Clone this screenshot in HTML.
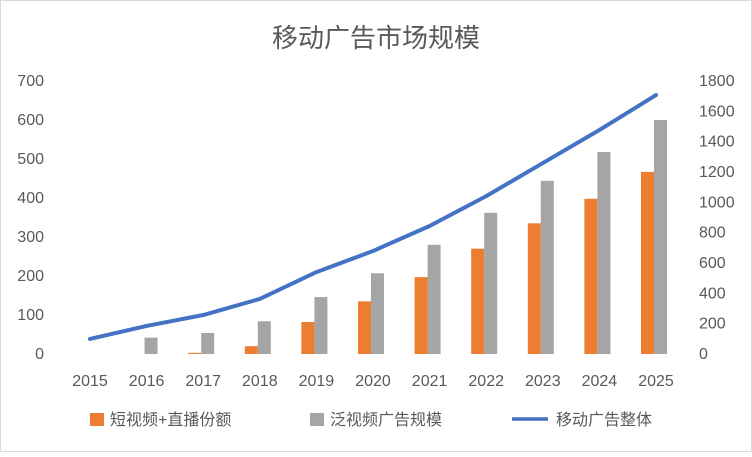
<!DOCTYPE html>
<html><head><meta charset="utf-8"><style>
body{margin:0;background:#fff}
svg text{font-family:"Liberation Sans","Noto Sans CJK SC",sans-serif;fill:#595959}
</style></head><body>
<svg id="c" width="752" height="452" xmlns="http://www.w3.org/2000/svg">
<rect x="0.5" y="0.5" width="751" height="451" fill="#fff" stroke="#d9d9d9"/>
<text x="376" y="47" font-size="26" text-anchor="middle">移动广告市场规模</text>
<g id="axes"></g><g id="bars"></g><g id="line"></g>
<g>
<rect x="90" y="413" width="14" height="13" fill="#ed7d31"/>
<text x="110" y="425" font-size="16">短视频+直播份额</text>
<rect x="310" y="413" width="14" height="13" fill="#a5a5a5"/>
<text x="330" y="425" font-size="16">泛视频广告规模</text>
<line x1="512" y1="419" x2="548" y2="419" stroke="#4472c4" stroke-width="3.5"/>
<text x="556" y="425" font-size="16">移动广告整体</text>
</g>
</svg>
<script>
const years=["2015","2016","2017","2018","2019","2020","2021","2022","2023","2024","2025"];
const shortVideo=[0,0,3,20,82,135,197,270,335,398,467];
const panVideo=[0,42,54,84,146,207,280,362,444,518,600];
const mobileAd=[99,185,257,363,540,679,844,1041,1259,1477,1707];
const leftTicks=[0,100,200,300,400,500,600,700];
const rightTicks=[0,200,400,600,800,1000,1200,1400,1600,1800];
const NS="http://www.w3.org/2000/svg";
const y0=354,y1=81;
function yL(v){return y0-(v/700)*(y0-y1);}
function yR(v){return y0-(v/1800)*(y0-y1);}
function xC(i){return 90+i*56.6;}
function mk(t,a,p){const e=document.createElementNS(NS,t);for(const k in a)e.setAttribute(k,a[k]);p.appendChild(e);return e;}
const ax=document.getElementById('axes');
leftTicks.forEach(v=>{const t=mk('text',{x:44,y:yL(v)+5,'font-size':16,'text-anchor':'end'},ax);t.textContent=v;

});
rightTicks.forEach(v=>{const t=mk('text',{x:699,y:yR(v)+5,'font-size':16},ax);t.textContent=v;

});
years.forEach((y,i)=>{const t=mk('text',{x:xC(i),y:386,'font-size':16,'text-anchor':'middle'},ax);t.textContent=y;

});
const b=document.getElementById('bars');
years.forEach((y,i)=>{const c=xC(i)-2;
const r1=mk('rect',{x:c-13,y:yL(shortVideo[i]),width:13,height:y0-yL(shortVideo[i]),fill:'#ed7d31'},b);


const r2=mk('rect',{x:c,y:yL(panVideo[i]),width:13,height:y0-yL(panVideo[i]),fill:'#a5a5a5'},b);

});
const pts=mobileAd.map((v,i)=>xC(i)+','+yR(v)).join(' ');
const pl=mk('polyline',{points:pts,fill:'none',stroke:'#4472c4','stroke-width':4,'stroke-linejoin':'round','stroke-linecap':'round'},document.getElementById('line'));


</script>
</body></html>
